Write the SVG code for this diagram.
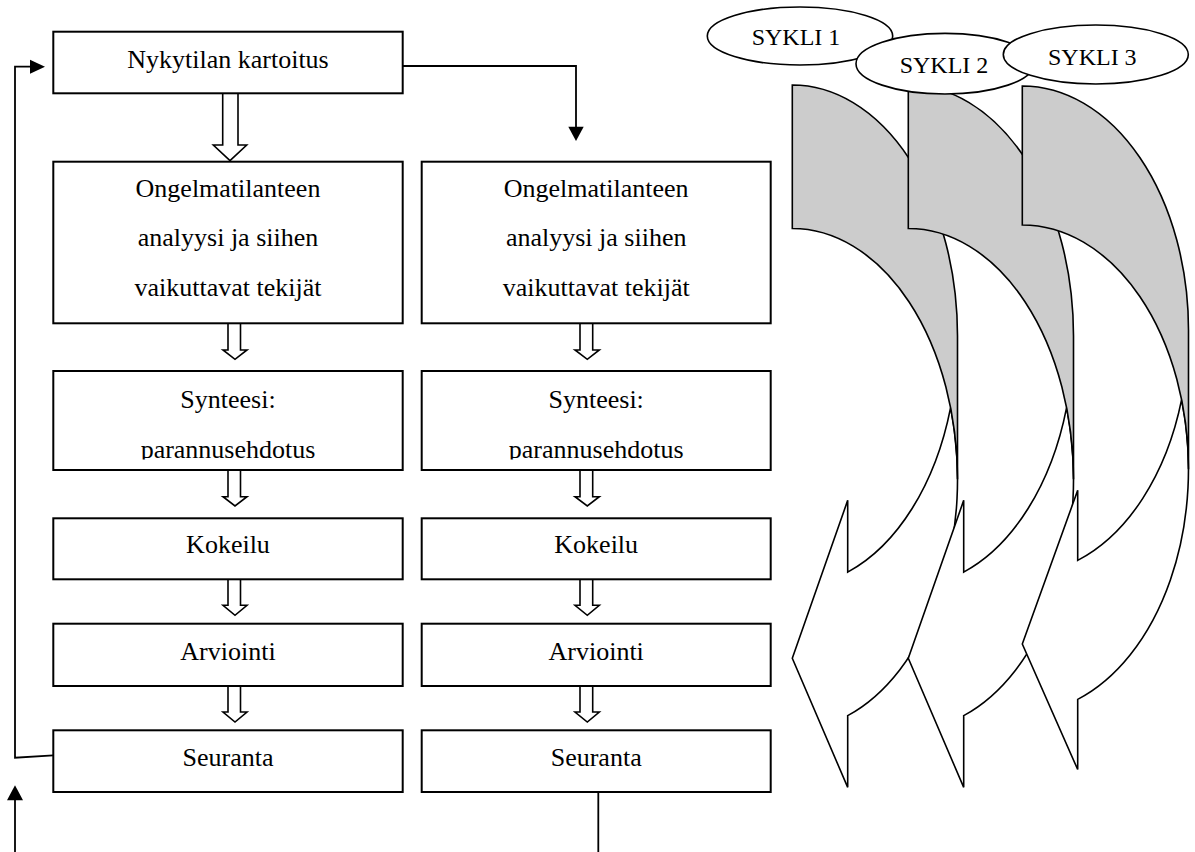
<svg xmlns="http://www.w3.org/2000/svg" width="1195" height="852" viewBox="0 0 1195 852">
<defs>
<style>
.box{fill:#fff;stroke:#000;stroke-width:2}
.t{font-family:"Liberation Serif","Times New Roman",serif;font-size:26px;fill:#000;text-anchor:middle}
.s{font-size:24px}
.ln{fill:none;stroke:#000;stroke-width:1.8}
.hd{fill:#000;stroke:none}
.ha{fill:#fff;stroke:#000;stroke-width:1.6;stroke-linejoin:miter}
.front{fill:#fff;stroke:#000;stroke-width:1.6;stroke-linejoin:miter}
.back{fill:#cccccc;stroke:#000;stroke-width:1.6}
.ell{fill:#fff;stroke:#000;stroke-width:1.6}
</style>
<clipPath id="clipSyn"><rect x="0" y="0" width="1195" height="459.5"/></clipPath>
</defs>
<rect width="1195" height="852" fill="#fff"/>

<g id="connectors">
  <path class="ln" d="M402.7 66 H576 V128"/>
  <polygon class="hd" points="568.3,126.7 583.7,126.7 576,141"/>
  <path class="ln" d="M53.3 755.3 L15 757.7 V66.7 H31"/>
  <polygon class="hd" points="30,59.7 30,73.7 45,66.7"/>
  <path class="ln" d="M15 852 V799"/>
  <polygon class="hd" points="7,800.3 23,800.3 15,785.3"/>
  <path class="ln" d="M598.3 792 V852"/>
  <path class="ha" d="M222.7 93.3 L238 93.3 L238 145 L246.7 145 L230 160.7 L213.3 145 L222.7 145 Z"/>
  <path class="ha" d="M228 323.3 L240.5 323.3 L240.5 350 L247 350 L235 359.3 L223 350 L228 350 Z"/>
  <path class="ha" d="M228 470 L240.5 470 L240.5 496.7 L247 496.7 L235 506 L223 496.7 L228 496.7 Z"/>
  <path class="ha" d="M228 579.3 L240.5 579.3 L240.5 605.3 L247 605.3 L235 615.3 L223 605.3 L228 605.3 Z"/>
  <path class="ha" d="M228 686 L240.5 686 L240.5 712 L247 712 L235 722 L223 712 L228 712 Z"/>
  <path class="ha" d="M580 323.3 L592.7 323.3 L592.7 350 L599.3 350 L587.3 359.3 L575 350 L580 350 Z"/>
  <path class="ha" d="M580 470 L592.7 470 L592.7 496.7 L599.3 496.7 L587.3 506 L575 496.7 L580 496.7 Z"/>
  <path class="ha" d="M580 579.3 L592.7 579.3 L592.7 605.3 L599.3 605.3 L587.3 615.3 L575 605.3 L580 605.3 Z"/>
  <path class="ha" d="M580 686 L592.7 686 L592.7 712 L599.3 712 L587.3 722 L575 712 L580 712 Z"/>
</g>

<g id="n-nykytila">
  <rect class="box" x="53.3" y="31.7" width="349.4" height="61.6"/>
  <text class="t" x="228" y="68.3">Nykytilan kartoitus</text>
</g>

<g id="n-ongelma1">
  <rect class="box" x="53.3" y="161.7" width="349.4" height="161.6"/>
  <text class="t" x="228" y="196.7">Ongelmatilanteen</text>
  <text class="t" x="228" y="245.7">analyysi ja siihen</text>
  <text class="t" x="228" y="295.5">vaikuttavat tekijät</text>
</g>
<g id="n-ongelma2">
  <rect class="box" x="421.7" y="161.7" width="349" height="161.6"/>
  <text class="t" x="596.2" y="196.7">Ongelmatilanteen</text>
  <text class="t" x="596.2" y="245.7">analyysi ja siihen</text>
  <text class="t" x="596.2" y="295.5">vaikuttavat tekijät</text>
</g>

<g id="n-synteesi1">
  <rect class="box" x="53.3" y="371" width="349.4" height="99"/>
  <text class="t" x="228" y="408.3">Synteesi:</text>
  <text class="t" x="228" y="457.5" clip-path="url(#clipSyn)">parannusehdotus</text>
</g>
<g id="n-synteesi2">
  <rect class="box" x="421.7" y="371" width="349" height="99"/>
  <text class="t" x="596.2" y="408.3">Synteesi:</text>
  <text class="t" x="596.2" y="457.5" clip-path="url(#clipSyn)">parannusehdotus</text>
</g>

<g id="n-kokeilu1">
  <rect class="box" x="53.3" y="518.3" width="349.4" height="61"/>
  <text class="t" x="228" y="553.3">Kokeilu</text>
</g>
<g id="n-kokeilu2">
  <rect class="box" x="421.7" y="518.3" width="349" height="61"/>
  <text class="t" x="596.2" y="553.3">Kokeilu</text>
</g>

<g id="n-arviointi1">
  <rect class="box" x="53.3" y="623.7" width="349.4" height="62.3"/>
  <text class="t" x="228" y="660.3">Arviointi</text>
</g>
<g id="n-arviointi2">
  <rect class="box" x="421.7" y="623.7" width="349" height="62.3"/>
  <text class="t" x="596.2" y="660.3">Arviointi</text>
</g>

<g id="n-seuranta1">
  <rect class="box" x="53.3" y="730.3" width="349.4" height="61.7"/>
  <text class="t" x="228" y="766">Seuranta</text>
</g>
<g id="n-seuranta2">
  <rect class="box" x="421.7" y="730.3" width="349" height="61.7"/>
  <text class="t" x="596.2" y="766">Seuranta</text>
</g>

<g id="n-cycle1-arrow">
  <path class="front" d="M792.3 658.3 L847.7 500.35 L847.7 572.1 A165.2 250.8 0 0 0 950.6 407.55 A165.2 250.8 0 0 1 847.7 715.6 L847.7 787.35 Z"/>
  <path class="back" d="M792.3 85 A165.2 250.8 0 0 1 957.5 335.8 L957.5 479.3 A165.2 250.8 0 0 0 792.3 228.5 Z"/>
</g>
<g id="n-cycle2-arrow">
  <path class="front" d="M908.3 658.3 L963.7 500.35 L963.7 572.1 A165.2 250.8 0 0 0 1066.6 407.55 A165.2 250.8 0 0 1 963.7 715.6 L963.7 787.35 Z"/>
  <path class="back" d="M908.3 85 A165.2 250.8 0 0 1 1073.5 335.8 L1073.5 479.3 A165.2 250.8 0 0 0 908.3 228.5 Z"/>
</g>
<g id="n-cycle3-arrow">
  <path class="front" d="M1022.3 644.05 L1077.7 490.25 L1077.7 560.4 A166.2 244.2 0 0 0 1181.6 399.7 A166.2 244.2 0 0 1 1077.7 699.4 L1077.7 769.55 Z"/>
  <path class="back" d="M1022.3 86 A166.2 244.2 0 0 1 1188.5 330.2 L1188.5 469.2 A166.2 244.2 0 0 0 1022.3 225 Z"/>
</g>

<g id="n-sykli1">
  <ellipse class="ell" cx="800" cy="36" rx="92.7" ry="29"/>
  <text class="t s" x="796" y="45">SYKLI 1</text>
</g>
<g id="n-sykli2">
  <ellipse class="ell" cx="945" cy="63.7" rx="89" ry="30.3"/>
  <text class="t s" x="944" y="72.7">SYKLI 2</text>
</g>
<g id="n-sykli3">
  <ellipse class="ell" cx="1095.8" cy="54.5" rx="92.5" ry="29.5"/>
  <text class="t s" x="1092.3" y="65">SYKLI 3</text>
</g>
</svg>
